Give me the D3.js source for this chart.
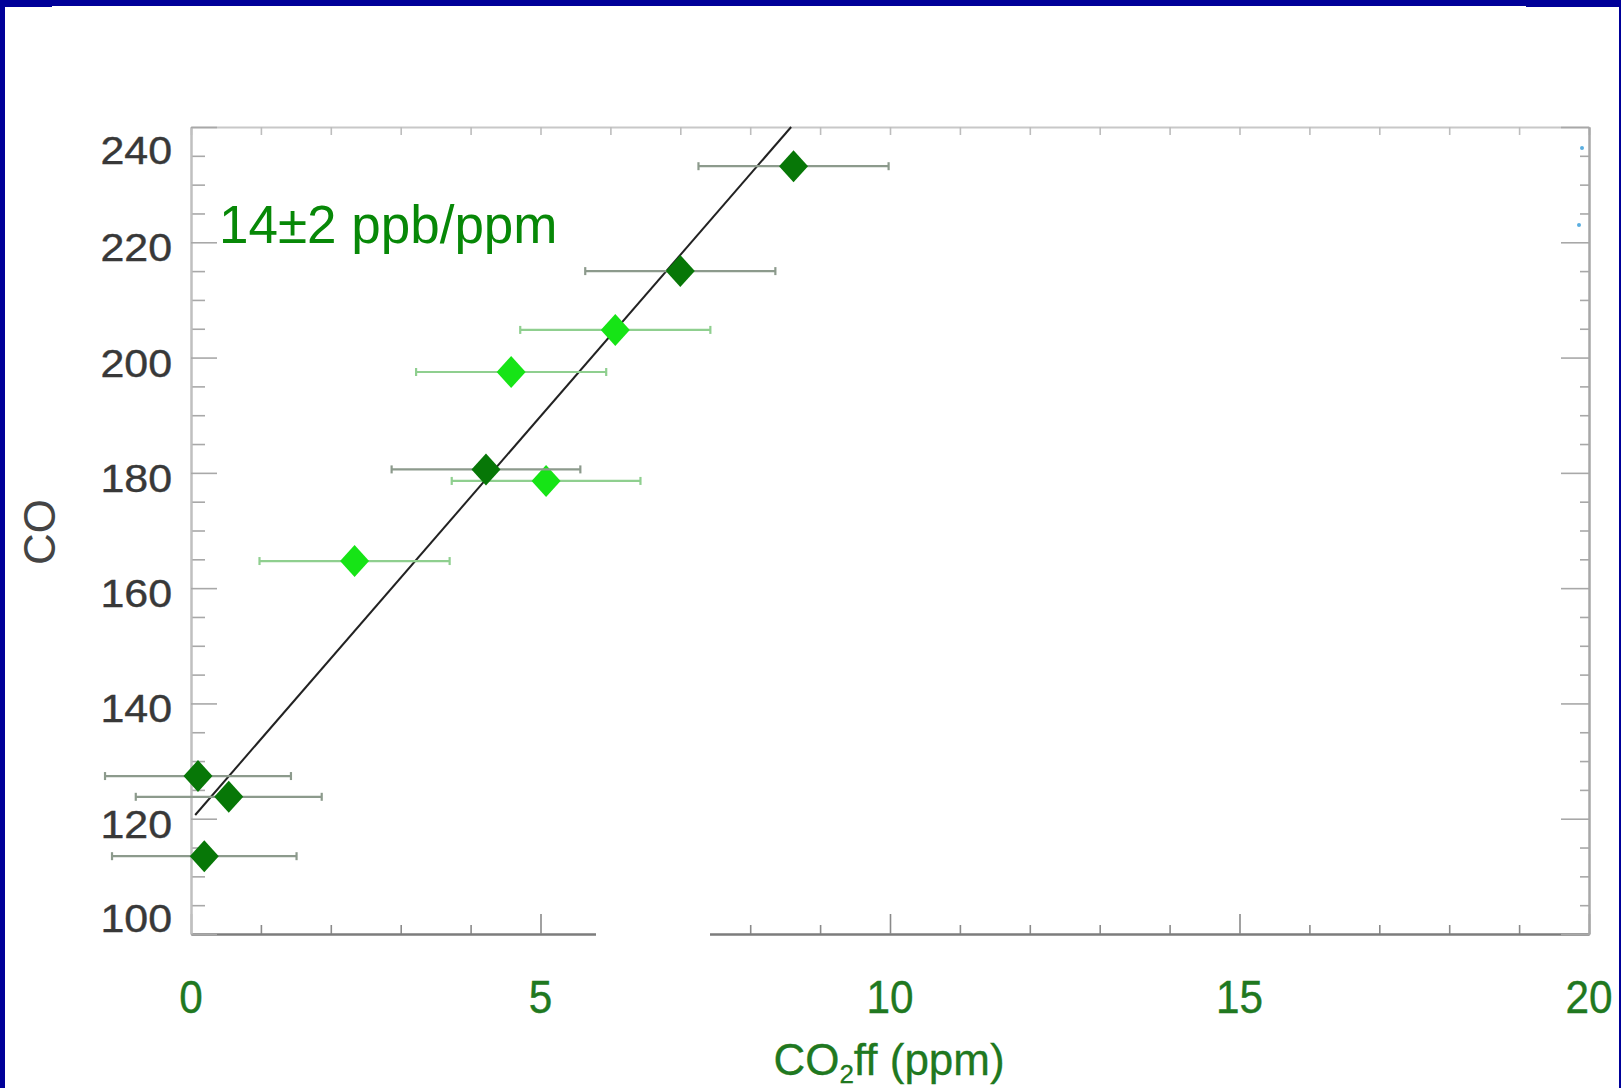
<!DOCTYPE html>
<html>
<head>
<meta charset="utf-8">
<script src="https://cdn.jsdelivr.net/npm/d3@7"></script>
<style>
  html, body { margin: 0; padding: 0; background: #fff; }
  svg { display: block; }
</style>
</head>
<body>
<svg id="chart" width="1621" height="1088"></svg>
<script>
// CO against fossil-fuel CO2 enhancement, with a linear fit

// Dark-green samples: CO2ff (ppm), CO (ppb), CO2ff uncertainty (ppm)
const darkX    = [8.62, 7.00, 4.22, 0.10, 0.54, 0.19];
const darkY    = [233.2, 215.0, 180.6, 127.4, 123.8, 113.5];
const darkXErr = [1.36, 1.36, 1.35, 1.33, 1.33, 1.32];

// Light-green samples
const lightX    = [6.07, 4.58, 5.08, 2.34];
const lightY    = [204.8, 197.5, 178.6, 164.7];
const lightXErr = [1.36, 1.36, 1.35, 1.36];

// Fitted line: CO = intercept + slope * CO2ff
const fitSlope = 14;
const fitIntercept = 119.8;
const fitStartX = 0.06;

const xTickLabels = [0, 5, 10, 15, 20];
const yTickLabels = [100, 120, 140, 160, 180, 200, 220, 240];
const slopeLabel = "14±2 ppb/ppm";
const yTitle = "CO";

const W = 1621, H = 1088;
const plot = { left: 191, right: 1589, top: 127, bottom: 934 };
const FONT = "'Liberation Sans', Arial, Helvetica, sans-serif";

const svg = d3.select("#chart");

// page background and dark blue frame
svg.append("rect").attr("width", W).attr("height", H).attr("fill", "#ffffff");
const frame = svg.append("g").attr("fill", "#000099");
frame.append("rect").attr("x", 0).attr("y", 0).attr("width", W).attr("height", 6);
frame.append("rect").attr("x", 0).attr("y", 0).attr("width", 52).attr("height", 7);
frame.append("rect").attr("x", 1526).attr("y", 0).attr("width", W - 1526).attr("height", 7);
frame.append("rect").attr("x", 0).attr("y", 0).attr("width", 5).attr("height", H);
frame.append("rect").attr("x", 1619).attr("y", 0).attr("width", 2).attr("height", H);

const x = d3.scaleLinear().domain([0, 20]).range([plot.left, plot.right]);
const y = d3.scaleLinear().domain([100, 240]).range([plot.bottom, plot.top]);

function styleAxis(g, lineColor, tickColor, width) {
  g.select(".domain").attr("stroke", lineColor).attr("stroke-width", width);
  g.selectAll(".tick line").attr("stroke", tickColor).attr("stroke-width", 1.6);
  g.selectAll(".tick text").remove();
}

// bottom axis: minor ticks every 1, major every 5 (inward)
svg.append("g").attr("transform", `translate(0,${plot.bottom})`)
  .call(d3.axisBottom(x).tickValues(d3.range(0, 21, 1).filter(v => v % 5 !== 0)).tickSize(-9).tickSizeOuter(0))
  .call(g => styleAxis(g, "#7d7d7d", "#8a8a8a", 2));
svg.append("g").attr("transform", `translate(0,${plot.bottom})`)
  .call(d3.axisBottom(x).tickValues(xTickLabels).tickSize(-20).tickSizeOuter(0))
  .call(g => styleAxis(g, "#7d7d7d", "#8a8a8a", 2));

// top axis
svg.append("g").attr("transform", `translate(0,${plot.top})`)
  .call(d3.axisTop(x).tickValues(d3.range(0, 21, 1)).tickSize(-8).tickSizeOuter(0))
  .call(g => styleAxis(g, "#c8c8c8", "#bdbdbd", 2));

// left axis: minor every 5, major every 20
svg.append("g").attr("transform", `translate(${plot.left},0)`)
  .call(d3.axisLeft(y).tickValues(d3.range(100, 241, 5).filter(v => v % 20 !== 0)).tickSize(-14).tickSizeOuter(0))
  .call(g => styleAxis(g, "#c0c0c0", "#a8a8a8", 2));
svg.append("g").attr("transform", `translate(${plot.left},0)`)
  .call(d3.axisLeft(y).tickValues(yTickLabels).tickSize(-26).tickSizeOuter(0))
  .call(g => styleAxis(g, "#c0c0c0", "#a8a8a8", 2));

// right axis
svg.append("g").attr("transform", `translate(${plot.right},0)`)
  .call(d3.axisRight(y).tickValues(d3.range(100, 241, 5).filter(v => v % 20 !== 0)).tickSize(-9).tickSizeOuter(0))
  .call(g => styleAxis(g, "#a8a8a8", "#a8a8a8", 2));
svg.append("g").attr("transform", `translate(${plot.right},0)`)
  .call(d3.axisRight(y).tickValues(yTickLabels).tickSize(-28).tickSizeOuter(0))
  .call(g => styleAxis(g, "#a8a8a8", "#a8a8a8", 2));

// white patch where the lower frame line is blanked out
svg.append("rect").attr("x", 596).attr("y", 912).attr("width", 114).attr("height", 28).attr("fill", "#ffffff");

// small stray markers near the right frame
svg.append("g").attr("fill", "#5aaee0")
  .selectAll("circle").data([[1582, 148], [1579, 225]]).join("circle")
  .attr("cx", d => d[0]).attr("cy", d => d[1]).attr("r", 2);

// y tick labels
svg.append("g").selectAll("text").data(yTickLabels).join("text")
  .attr("transform", v => {
    const cy = Math.max(plot.top + 23, Math.min(plot.bottom - 16, y(v) + 5));
    return `translate(172,${cy + 14}) scale(1.13,1)`;
  })
  .attr("text-anchor", "end")
  .attr("font-family", FONT)
  .attr("font-size", 38)
  .attr("fill", "#383838")
  .attr("stroke", "#383838").attr("stroke-width", 0.4)
  .text(v => v);

// x tick labels
svg.append("g").selectAll("text").data(xTickLabels).join("text")
  .attr("transform", v => `translate(${x(v)},1013) scale(0.9,1)`)
  .attr("text-anchor", "middle")
  .attr("font-family", FONT)
  .attr("font-size", 47)
  .attr("fill", "#207820")
  .attr("stroke", "#207820").attr("stroke-width", 0.4)
  .text(v => v);

// axis titles
svg.append("text")
  .attr("transform", "translate(55,532) rotate(-90)")
  .attr("text-anchor", "middle")
  .attr("font-family", FONT)
  .attr("font-size", 44)
  .attr("fill", "#444444")
  .text(yTitle);

const xTitle = svg.append("text")
  .attr("x", 889).attr("y", 1075)
  .attr("text-anchor", "middle")
  .attr("font-family", FONT)
  .attr("font-size", 44)
  .attr("fill", "#207820")
  .attr("stroke", "#207820").attr("stroke-width", 0.3);
xTitle.append("tspan").text("CO");
xTitle.append("tspan").attr("font-size", 26).attr("dy", 8).text("2");
xTitle.append("tspan").attr("dy", -8).text("ff (ppm)");

// fitted line
const fitEndX = (y.domain()[1] - fitIntercept) / fitSlope;
svg.append("line")
  .attr("x1", x(fitStartX)).attr("y1", y(fitIntercept + fitSlope * fitStartX))
  .attr("x2", x(fitEndX)).attr("y2", y(fitIntercept + fitSlope * fitEndX))
  .attr("stroke", "#222222").attr("stroke-width", 2);

// error bars and diamonds
const darkPts = darkX.map((v, i) => ({ x: v, y: darkY[i], e: darkXErr[i] }));
const lightPts = lightX.map((v, i) => ({ x: v, y: lightY[i], e: lightXErr[i] }));

function drawSeries(pts, barColor, fill) {
  const g = svg.append("g");
  const bars = g.selectAll("g.bar").data(pts).join("g").attr("class", "bar")
    .attr("stroke", barColor).attr("stroke-width", 2.2);
  bars.append("line")
    .attr("x1", d => x(d.x - d.e)).attr("x2", d => x(d.x + d.e))
    .attr("y1", d => y(d.y)).attr("y2", d => y(d.y));
  bars.append("line")
    .attr("x1", d => x(d.x - d.e)).attr("x2", d => x(d.x - d.e))
    .attr("y1", d => y(d.y) - 4).attr("y2", d => y(d.y) + 4);
  bars.append("line")
    .attr("x1", d => x(d.x + d.e)).attr("x2", d => x(d.x + d.e))
    .attr("y1", d => y(d.y) - 4).attr("y2", d => y(d.y) + 4);
  g.selectAll("path.pt").data(pts).join("path").attr("class", "pt")
    .attr("d", "M0,-16L14.5,0L0,16L-14.5,0Z")
    .attr("transform", d => `translate(${x(d.x)},${y(d.y)})`)
    .attr("fill", fill);
}
drawSeries(lightPts, "#8fcf8f", "#16e416");
drawSeries(darkPts, "#8c9a8c", "#077707");

// slope annotation
svg.append("text")
  .attr("x", 219).attr("y", 243)
  .attr("font-family", FONT)
  .attr("font-size", 53)
  .attr("fill", "#078807")
  .text(slopeLabel);
</script>
</body>
</html>
